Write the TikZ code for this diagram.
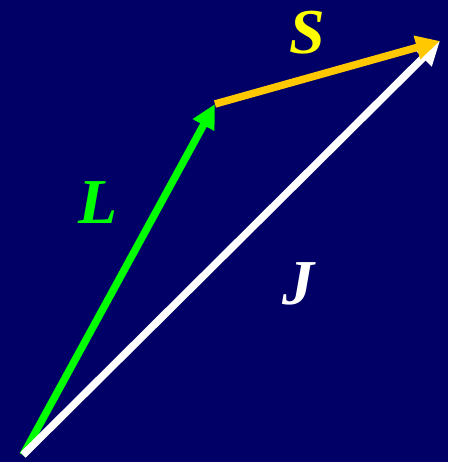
\documentclass[tikz,border=0pt]{standalone}
\usepackage{fontspec}
\setmainfont{Liberation Serif}
\usetikzlibrary{arrows.meta}
\definecolor{navy}{RGB}{0,0,102}
\definecolor{vgreen}{RGB}{0,255,0}
\definecolor{gold}{RGB}{255,200,0}
\definecolor{syellow}{RGB}{255,255,0}
\tikzset{
  vec/.style={line width=7.5pt, -{Triangle[length=24pt,width=23pt]}},
  lbl/.style={font=\fontsize{64}{64}\selectfont\bfseries\itshape, inner sep=0pt}
}
\begin{document}
\begin{tikzpicture}[x=1pt,y=-1pt]
\fill[navy] (0,0) rectangle (448,462);
\useasboundingbox (0,0) rectangle (448,462);
\coordinate (O) at (23,455);
\coordinate (P) at (215,104);
\coordinate (Q) at (440,41);
\draw[vec, vgreen] (O) -- (P);
\draw[vec, white] (O) -- (Q);
\draw[vec, gold] (P) -- (Q);
\node[lbl, text=vgreen] (L) at (98,203) {L};
\node[lbl, text=syellow] (S) at (307,33) {S};
\node[lbl, text=white] (J) at (298,284) {J};
\end{tikzpicture}
\end{document}
